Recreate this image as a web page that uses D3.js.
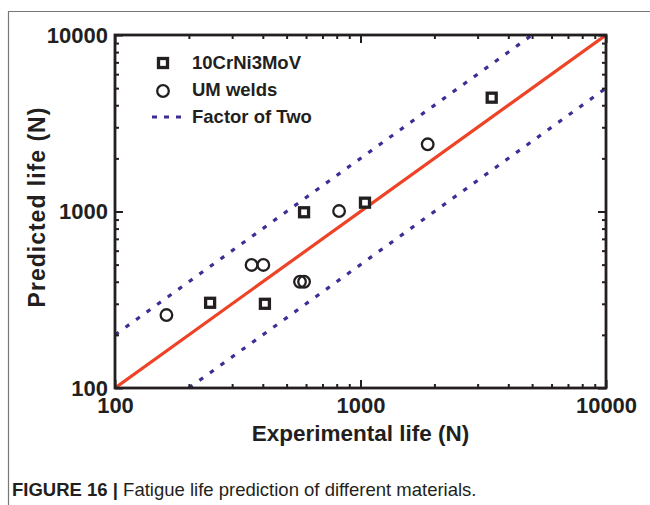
<!DOCTYPE html>
<html>
<head>
<meta charset="utf-8">
<script src="https://cdn.jsdelivr.net/npm/d3@7"></script>
<style>
  body { margin: 0; background: #fff; }
  text { font-family: "Liberation Sans", Arial, sans-serif; fill: #231f20; }
</style>
</head>
<body>
<div id="chart"></div>
<script>
// data
var steelExp  = [244, 408, 589, 1043, 3423];
var steelPred = [304, 300, 990, 1122, 4415];
var umExp  = [162, 360, 402, 567, 589, 818, 1878];
var umPred = [259, 498, 498, 400, 400, 1006, 2403];
var majorTicks = [100, 1000, 10000];
var minorTicks = [200, 300, 400, 500, 600, 700, 800, 900, 2000, 3000, 4000, 5000, 6000, 7000, 8000, 9000];
var factors = [2, 0.5];
var legendLabels = ["10CrNi3MoV", "UM welds", "Factor of Two"];

var svgWidth = 650;
var svgHeight = 505;
var margin = { top: 35, right: 44, bottom: 117, left: 115 };
var width = 606 - margin.left;
var height = 388 - margin.top;

var axisColor = "#231f20";
var red = "#ee4326";
var blue = "#3b2f96";

var svg = d3.select("#chart")
    .append("svg")
    .attr("width", svgWidth)
    .attr("height", svgHeight);

// outer figure frame
svg.append("path")
    .attr("d", "M8.5," + svgHeight + "V11.5H" + svgWidth)
    .attr("fill", "none")
    .attr("stroke", "#777")
    .attr("stroke-width", 1.2);

var chartGroup = svg.append("g")
    .attr("transform", `translate(${margin.left}, ${margin.top})`);

var x = d3.scaleLog().domain([100, 10000]).range([0, width]);
var y = d3.scaleLog().domain([100, 10000]).range([height, 0]);

chartGroup.append("clipPath").attr("id", "clip")
    .append("rect").attr("width", width).attr("height", height);

var lines = chartGroup.append("g").attr("clip-path", "url(#clip)");

// factor of two bands
factors.forEach(function(f) {
    lines.append("line")
        .attr("x1", x(100)).attr("y1", y(100 * f))
        .attr("x2", x(10000)).attr("y2", y(10000 * f))
        .attr("stroke", blue)
        .attr("stroke-width", 3.2)
        .attr("stroke-dasharray", "4.5,8.5");
});

// 1:1 line
lines.append("line")
    .attr("x1", x(100)).attr("y1", y(100))
    .attr("x2", x(10000)).attr("y2", y(10000))
    .attr("stroke", red)
    .attr("stroke-width", 3.2);

// axes: all four sides, ticks inward
function styleAxis(g) {
    g.select(".domain").remove();
    g.selectAll("line").attr("stroke", axisColor).attr("stroke-width", 2);
    g.selectAll("text")
        .style("font-family", "'Liberation Sans', Arial, sans-serif")
        .style("font-weight", "bold")
        .style("font-size", "22px")
        .attr("fill", axisColor);
}

var fmt = d3.format("d");

chartGroup.append("g")
    .attr("transform", `translate(0,${height})`)
    .call(d3.axisBottom(x).tickValues(majorTicks).tickFormat(fmt).tickSizeInner(-8).tickSizeOuter(0).tickPadding(9))
    .call(styleAxis);
chartGroup.append("g")
    .attr("transform", `translate(0,${height})`)
    .call(d3.axisBottom(x).tickValues(minorTicks).tickFormat("").tickSizeInner(-4).tickSizeOuter(0))
    .call(styleAxis);
chartGroup.append("g")
    .call(d3.axisTop(x).tickValues(majorTicks).tickFormat("").tickSizeInner(-8).tickSizeOuter(0))
    .call(styleAxis);
chartGroup.append("g")
    .call(d3.axisTop(x).tickValues(minorTicks).tickFormat("").tickSizeInner(-4).tickSizeOuter(0))
    .call(styleAxis);

chartGroup.append("g")
    .call(d3.axisLeft(y).tickValues(majorTicks).tickFormat(fmt).tickSizeInner(-8).tickSizeOuter(0).tickPadding(7))
    .call(styleAxis);
chartGroup.append("g")
    .call(d3.axisLeft(y).tickValues(minorTicks).tickFormat("").tickSizeInner(-4).tickSizeOuter(0))
    .call(styleAxis);
chartGroup.append("g")
    .attr("transform", `translate(${width},0)`)
    .call(d3.axisRight(y).tickValues(majorTicks).tickFormat("").tickSizeInner(-8).tickSizeOuter(0))
    .call(styleAxis);
chartGroup.append("g")
    .attr("transform", `translate(${width},0)`)
    .call(d3.axisRight(y).tickValues(minorTicks).tickFormat("").tickSizeInner(-4).tickSizeOuter(0))
    .call(styleAxis);

// frame of the plot
chartGroup.append("rect")
    .attr("width", width)
    .attr("height", height)
    .attr("fill", "none")
    .attr("stroke", axisColor)
    .attr("stroke-width", 2.8);

// points
var steel = steelExp.map(function(d, i) { return { x: d, y: steelPred[i] }; });
var um = umExp.map(function(d, i) { return { x: d, y: umPred[i] }; });

chartGroup.selectAll(".um")
    .data(um)
    .enter()
    .append("circle")
    .attr("class", "um")
    .attr("cx", d => x(d.x))
    .attr("cy", d => y(d.y))
    .attr("r", 5.8)
    .attr("fill", "none")
    .attr("stroke", axisColor)
    .attr("stroke-width", 2.3);

chartGroup.selectAll(".steel")
    .data(steel)
    .enter()
    .append("rect")
    .attr("class", "steel")
    .attr("x", d => x(d.x) - 4.5)
    .attr("y", d => y(d.y) - 4.5)
    .attr("width", 9)
    .attr("height", 9)
    .attr("fill", "#fff")
    .attr("stroke", axisColor)
    .attr("stroke-width", 3.3);

// legend
var legend = svg.append("g");
legend.append("rect")
    .attr("x", 158.5).attr("y", 58.5).attr("width", 9).attr("height", 9)
    .attr("fill", "#fff").attr("stroke", axisColor).attr("stroke-width", 3.3);
legend.append("circle")
    .attr("cx", 163).attr("cy", 91).attr("r", 5.8)
    .attr("fill", "none").attr("stroke", axisColor).attr("stroke-width", 2.3);
legend.append("line")
    .attr("x1", 152).attr("x2", 184).attr("y1", 117).attr("y2", 117)
    .attr("stroke", blue).attr("stroke-width", 3.2)
    .attr("stroke-dasharray", "5,7");

legend.selectAll("text")
    .data(legendLabels)
    .enter()
    .append("text")
    .attr("x", 192)
    .attr("y", (d, i) => 69 + i * 27)
    .style("font-weight", "bold")
    .style("font-size", "18.5px")
    .text(d => d);

// axis titles
svg.append("text")
    .attr("x", margin.left + width / 2)
    .attr("y", 441)
    .attr("text-anchor", "middle")
    .style("font-weight", "bold")
    .style("font-size", "22.5px")
    .text("Experimental life (N)");

svg.append("text")
    .attr("transform", "rotate(-90)")
    .attr("x", -207)
    .attr("y", 45)
    .attr("text-anchor", "middle")
    .style("font-weight", "bold")
    .style("font-size", "23px")
    .style("letter-spacing", "1px")
    .text("Predicted life (N)");

// caption
var caption = svg.append("text")
    .attr("x", 12)
    .attr("y", 496)
    .style("font-size", "18.5px");
caption.append("tspan").style("font-weight", "bold").text("FIGURE 16 | ");
caption.append("tspan").text("Fatigue life prediction of different materials.");
</script>
</body>
</html>
